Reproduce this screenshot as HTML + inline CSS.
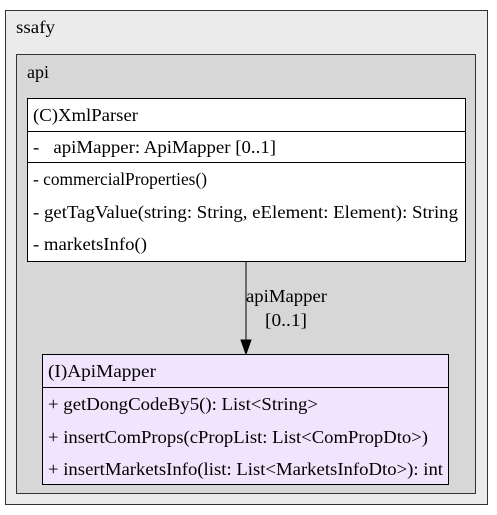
<!DOCTYPE html>
<html><head><style>body{margin:0;background:#fff}svg{display:block}text{font-family:"Liberation Serif","Times New Roman",serif;font-size:18px;fill:#000}</style></head>
<body>
<svg width="497" height="515" viewBox="0 0 497 515">
<rect x="5.5" y="10.5" width="482" height="494" fill="#ebebeb" stroke="#333" stroke-width="1"/>
<text x="16" y="33" textLength="39" lengthAdjust="spacingAndGlyphs">ssafy</text>
<rect x="16.5" y="54.5" width="459" height="439" fill="#d7d7d7" stroke="#333" stroke-width="1"/>
<text x="27" y="78" textLength="22" lengthAdjust="spacingAndGlyphs">api</text>
<rect x="27.5" y="98.5" width="438" height="163" fill="#fff" stroke="#000" stroke-width="1"/>
<line x1="27.5" y1="131.5" x2="465.5" y2="131.5" stroke="#000"/>
<line x1="27.5" y1="162.5" x2="465.5" y2="162.5" stroke="#000"/>
<text x="33" y="121" textLength="105" lengthAdjust="spacingAndGlyphs">(C)XmlParser</text>
<text x="33" y="153" xml:space="preserve" textLength="243" lengthAdjust="spacingAndGlyphs">-   apiMapper: ApiMapper [0..1]</text>
<text x="33" y="185" textLength="174" lengthAdjust="spacingAndGlyphs">- commercialProperties()</text>
<text x="33" y="218" textLength="425" lengthAdjust="spacingAndGlyphs">- getTagValue(string: String, eElement: Element): String</text>
<text x="33" y="250" textLength="114" lengthAdjust="spacingAndGlyphs">- marketsInfo()</text>
<line x1="246" y1="262" x2="246" y2="341" stroke="#000"/>
<polygon points="241,340 251,340 246,354" fill="#000" stroke="#000"/>
<text x="246" y="302" textLength="81" lengthAdjust="spacingAndGlyphs">apiMapper</text>
<text x="265" y="326" textLength="42" lengthAdjust="spacingAndGlyphs">[0..1]</text>
<rect x="42.5" y="354.5" width="406" height="130" fill="#f1e4fd" stroke="#000" stroke-width="1"/>
<line x1="42.5" y1="387.5" x2="448.5" y2="387.5" stroke="#000"/>
<text x="48" y="377" textLength="108" lengthAdjust="spacingAndGlyphs">(I)ApiMapper</text>
<text x="48" y="410" textLength="270" lengthAdjust="spacingAndGlyphs">+ getDongCodeBy5(): List&lt;String&gt;</text>
<text x="48" y="443" textLength="380" lengthAdjust="spacingAndGlyphs">+ insertComProps(cPropList: List&lt;ComPropDto&gt;)</text>
<text x="48" y="475" textLength="395" lengthAdjust="spacingAndGlyphs">+ insertMarketsInfo(list: List&lt;MarketsInfoDto&gt;): int</text>
</svg>
</body></html>
